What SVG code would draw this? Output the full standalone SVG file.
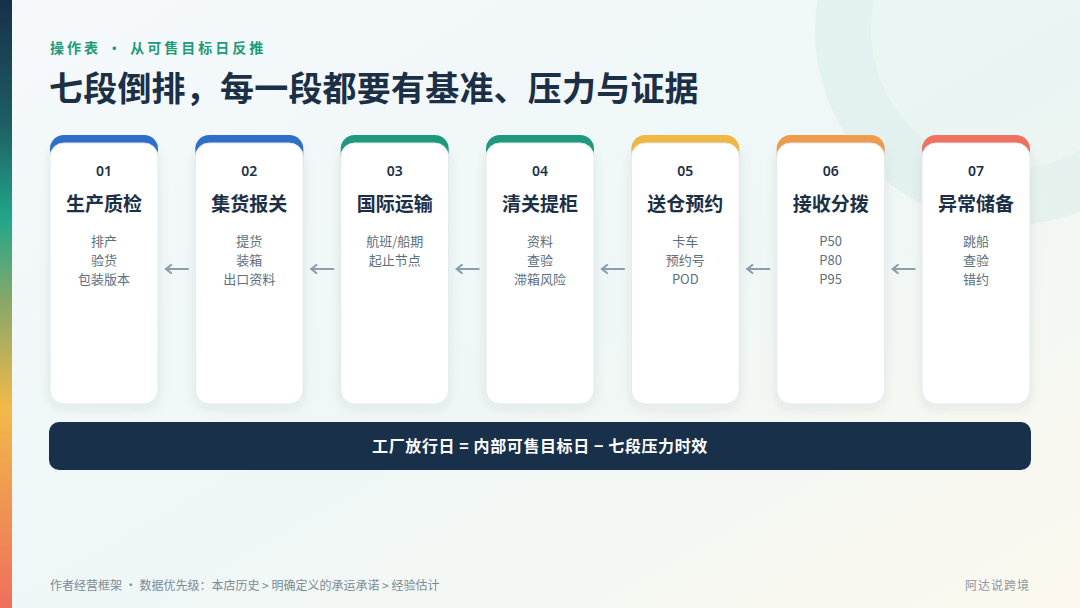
<svg xmlns="http://www.w3.org/2000/svg" width="1080" height="608" viewBox="0 0 1080 608">
  <defs>
    <linearGradient id="bg" x1="0" y1="0" x2="1" y2="1">
      <stop offset="0" stop-color="#f5f9fc"/>
      <stop offset="0.55" stop-color="#eff7f6"/>
      <stop offset="1" stop-color="#fcf8ee"/>
    </linearGradient>
    <linearGradient id="side" x1="0" y1="0" x2="0" y2="1">
      <stop offset="0" stop-color="#17304a"/>
      <stop offset="0.2" stop-color="#1d5d62"/>
      <stop offset="0.36" stop-color="#22a68a"/>
      <stop offset="0.5" stop-color="#8aa868"/>
      <stop offset="0.67" stop-color="#f2b94a"/>
      <stop offset="1" stop-color="#ee6f5c"/>
    </linearGradient>
    <filter id="sh" x="-20%" y="-10%" width="140%" height="130%">
      <feDropShadow dx="0" dy="4" stdDeviation="6" flood-color="#1b3a4a" flood-opacity="0.08"/>
    </filter>
    <marker id="ah" viewBox="0 0 10 10" refX="8" refY="5" markerWidth="10" markerHeight="10" markerUnits="userSpaceOnUse" orient="auto">
      <path d="M3,1 L8,5 L3,9" fill="none" stroke="#8d9eab" stroke-width="2.2" stroke-linecap="round" stroke-linejoin="round"/>
    </marker>
  </defs>
  <style>
    .f { font-family: "Noto Sans CJK SC", "Noto Sans", sans-serif; }
    .num { font-family: "Noto Sans", "Noto Sans CJK SC", sans-serif; font-size: 14px; font-weight: 600; fill: #1b3047; text-anchor: middle; }
    .ttl { font-size: 19px; font-weight: 700; fill: #1b3047; text-anchor: middle; }
    .sub { font-size: 13px; fill: #5d6f80; text-anchor: middle; }
    .card { fill: #ffffff; stroke: #e1e7ec; stroke-width: 1; }
    .conn { stroke: #8d9eab; stroke-width: 2.2; stroke-linecap: round; fill: none; }
  </style>

  <rect x="0" y="0" width="1080" height="608" fill="url(#bg)"/>
  <circle cx="1010" cy="30" r="167" fill="none" stroke="#1f9a80" stroke-opacity="0.06" stroke-width="56"/>
  <circle cx="1010" cy="30" r="139" fill="#2aa58a" fill-opacity="0.025"/>
  <rect x="0" y="0" width="12" height="608" fill="url(#side)"/>

  <text class="f" x="50" y="53" font-size="14" font-weight="700" fill="#1f9a78" letter-spacing="3">操作表 · 从可售目标日反推</text>
  <text class="f" x="49" y="101" font-size="34" font-weight="700" fill="#1b3047" letter-spacing="0.2">七段倒排，每一段都要有基准、压力与证据</text>

  <g id="connectors">
    <line class="conn" x1="188" y1="269" x2="166" y2="269" marker-end="url(#ah)"/>
    <line class="conn" x1="333.3" y1="269" x2="311.3" y2="269" marker-end="url(#ah)"/>
    <line class="conn" x1="478.7" y1="269" x2="456.7" y2="269" marker-end="url(#ah)"/>
    <line class="conn" x1="624" y1="269" x2="602" y2="269" marker-end="url(#ah)"/>
    <line class="conn" x1="769.3" y1="269" x2="747.3" y2="269" marker-end="url(#ah)"/>
    <line class="conn" x1="914.7" y1="269" x2="892.7" y2="269" marker-end="url(#ah)"/>
  </g>

  <g id="n1" class="f">
    <rect x="50" y="135" width="108" height="40" rx="14" fill="#2f6fcb"/>
    <rect class="card" x="50" y="143" width="108" height="261" rx="14" filter="url(#sh)"/>
    <text class="num" x="104" y="176">01</text>
    <text class="ttl" x="104" y="211">生产质检</text>
    <text class="sub" x="104" y="246">排产</text>
    <text class="sub" x="104" y="265">验货</text>
    <text class="sub" x="104" y="284">包装版本</text>
  </g>
  <g id="n2" class="f">
    <rect x="195.3" y="135" width="108" height="40" rx="14" fill="#2f6fcb"/>
    <rect class="card" x="195.3" y="143" width="108" height="261" rx="14" filter="url(#sh)"/>
    <text class="num" x="249.3" y="176">02</text>
    <text class="ttl" x="249.3" y="211">集货报关</text>
    <text class="sub" x="249.3" y="246">提货</text>
    <text class="sub" x="249.3" y="265">装箱</text>
    <text class="sub" x="249.3" y="284">出口资料</text>
  </g>
  <g id="n3" class="f">
    <rect x="340.7" y="135" width="108" height="40" rx="14" fill="#1f9a7e"/>
    <rect class="card" x="340.7" y="143" width="108" height="261" rx="14" filter="url(#sh)"/>
    <text class="num" x="394.7" y="176">03</text>
    <text class="ttl" x="394.7" y="211">国际运输</text>
    <text class="sub" x="394.7" y="246">航班/船期</text>
    <text class="sub" x="394.7" y="265">起止节点</text>
  </g>
  <g id="n4" class="f">
    <rect x="486" y="135" width="108" height="40" rx="14" fill="#1f9a7e"/>
    <rect class="card" x="486" y="143" width="108" height="261" rx="14" filter="url(#sh)"/>
    <text class="num" x="540" y="176">04</text>
    <text class="ttl" x="540" y="211">清关提柜</text>
    <text class="sub" x="540" y="246">资料</text>
    <text class="sub" x="540" y="265">查验</text>
    <text class="sub" x="540" y="284">滞箱风险</text>
  </g>
  <g id="n5" class="f">
    <rect x="631.3" y="135" width="108" height="40" rx="14" fill="#f1b843"/>
    <rect class="card" x="631.3" y="143" width="108" height="261" rx="14" filter="url(#sh)"/>
    <text class="num" x="685.3" y="176">05</text>
    <text class="ttl" x="685.3" y="211">送仓预约</text>
    <text class="sub" x="685.3" y="246">卡车</text>
    <text class="sub" x="685.3" y="265">预约号</text>
    <text class="sub" x="685.3" y="284">POD</text>
  </g>
  <g id="n6" class="f">
    <rect x="776.7" y="135" width="108" height="40" rx="14" fill="#ef9c4c"/>
    <rect class="card" x="776.7" y="143" width="108" height="261" rx="14" filter="url(#sh)"/>
    <text class="num" x="830.7" y="176">06</text>
    <text class="ttl" x="830.7" y="211">接收分拨</text>
    <text class="sub" x="830.7" y="246">P50</text>
    <text class="sub" x="830.7" y="265">P80</text>
    <text class="sub" x="830.7" y="284">P95</text>
  </g>
  <g id="n7" class="f">
    <rect x="922" y="135" width="108" height="40" rx="14" fill="#ef7360"/>
    <rect class="card" x="922" y="143" width="108" height="261" rx="14" filter="url(#sh)"/>
    <text class="num" x="976" y="176">07</text>
    <text class="ttl" x="976" y="211">异常储备</text>
    <text class="sub" x="976" y="246">跳船</text>
    <text class="sub" x="976" y="265">查验</text>
    <text class="sub" x="976" y="284">错约</text>
  </g>

  <g id="formula" class="f">
    <rect x="49" y="422" width="982" height="48" rx="10" fill="#18304a"/>
    <text x="540" y="452" font-size="16" font-weight="700" fill="#ffffff" text-anchor="middle" letter-spacing="0.6">工厂放行日 = 内部可售目标日 − 七段压力时效</text>
  </g>

  <text class="f" x="50" y="590" font-size="12" fill="#7d8a96">作者经营框架 · 数据优先级：本店历史 &gt; 明确定义的承运承诺 &gt; 经验估计</text>
  <text class="f" x="1030" y="590" font-size="12" fill="#8a96a2" text-anchor="end" letter-spacing="1">阿达说跨境</text>
</svg>
